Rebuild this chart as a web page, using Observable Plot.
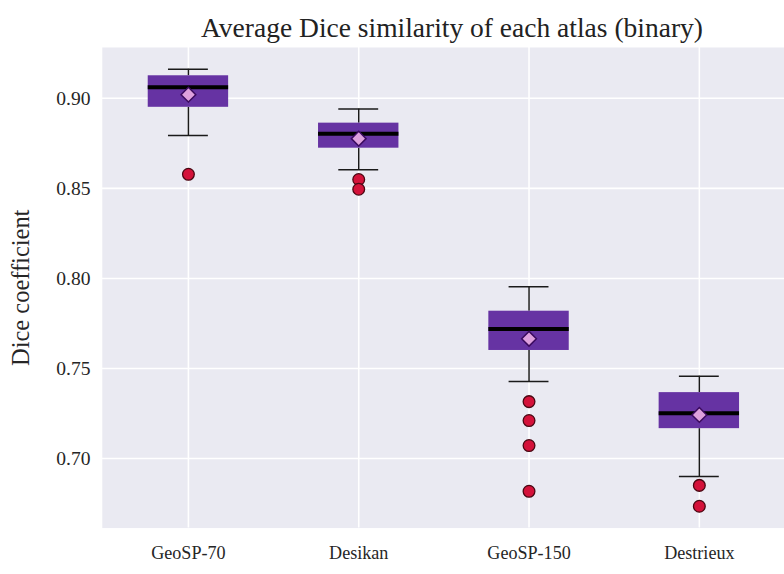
<!DOCTYPE html>
<html>
<head>
<meta charset="utf-8">
<script src="https://cdn.jsdelivr.net/npm/d3@7"></script>
<script src="https://cdn.jsdelivr.net/npm/@observablehq/plot@0.6"></script>
<style>
  html, body { margin: 0; padding: 0; background: #fff; overflow: hidden; width: 784px; height: 574px; }
  #title { position: relative; width: 904px; height: 47px; text-align: center;
           font-family: "Liberation Serif", "Times New Roman", serif; font-size: 27.5px; color: #222;
           line-height: 27px; box-sizing: border-box; }
  #title span { position: absolute; left: 0; right: 0; top: 14px; }
</style>
</head>
<body>
<div id="title"><span>Average Dice similarity of each atlas (binary)</span></div>
<div id="chart"></div>
<script>
// Per-atlas summary statistics of the Dice coefficient
const atlases     = ["GeoSP-70", "Desikan", "GeoSP-150", "Destrieux"];
const whiskerHigh = [0.9161, 0.8940, 0.7954, 0.7457];
const q3          = [0.9125, 0.8862, 0.7818, 0.7366];
const medians     = [0.9061, 0.8803, 0.7719, 0.7251];
const means       = [0.9020, 0.8776, 0.7665, 0.7242];
const q1          = [0.8950, 0.8723, 0.7600, 0.7166];
const whiskerLow  = [0.8793, 0.8603, 0.7428, 0.6900];

// Outlying subjects per atlas
const outlierAtlas  = ["GeoSP-70", "Desikan", "Desikan", "GeoSP-150", "GeoSP-150", "GeoSP-150", "GeoSP-150", "Destrieux", "Destrieux"];
const outlierValues = [0.8578, 0.8549, 0.8495, 0.7316, 0.7211, 0.7072, 0.6818, 0.6851, 0.6735];

const yTicks = [0.70, 0.75, 0.80, 0.85, 0.90];
const yLabel = "Dice coefficient";

const stats = atlases.map((atlas, i) => ({
  atlas, lo: whiskerLow[i], q1: q1[i], median: medians[i], mean: means[i], q3: q3[i], hi: whiskerHigh[i]
}));
const outliers = outlierAtlas.map((atlas, i) => ({atlas, value: outlierValues[i]}));

// Square diamond marker (rotated square, like matplotlib's "D")
const squareDiamond = {
  draw(context, size) {
    const r = Math.sqrt(size / 2);
    context.moveTo(0, -r);
    context.lineTo(r, 0);
    context.lineTo(0, r);
    context.lineTo(-r, 0);
    context.closePath();
  }
};

const width = 801;
const band = (width - 104) / atlases.length;
const boxInset = (band - 82.4) / 2;
const capInset = (band - 41) / 2;

const chart = Plot.plot({
  width,
  height: 527,
  marginTop: 0,
  marginBottom: 36,
  marginLeft: 104,
  marginRight: 0,
  style: {fontFamily: "'Liberation Serif', 'Times New Roman', serif", fontSize: "20px", color: "#262626", background: "transparent"},
  x: {domain: atlases, padding: 0, label: null},
  y: {domain: [0.6614, 0.9282], ticks: yTicks, tickFormat: d3.format(".2f"), label: null},
  marks: [
    Plot.frame({fill: "#EAEAF2", stroke: null}),
    Plot.gridY(yTicks, {stroke: "white", strokeOpacity: 1, strokeWidth: 1.6}),
    Plot.gridX({stroke: "white", strokeOpacity: 1, strokeWidth: 1.6}),
    // whiskers
    Plot.ruleX(stats, {x: "atlas", y1: "lo", y2: "q1", stroke: "#1a1a1a", strokeWidth: 1.5}),
    Plot.ruleX(stats, {x: "atlas", y1: "q3", y2: "hi", stroke: "#1a1a1a", strokeWidth: 1.5}),
    Plot.tickY(stats, {x: "atlas", y: "lo", inset: capInset, stroke: "#1a1a1a", strokeWidth: 1.5}),
    Plot.tickY(stats, {x: "atlas", y: "hi", inset: capInset, stroke: "#1a1a1a", strokeWidth: 1.5}),
    // interquartile boxes
    Plot.barY(stats, {x: "atlas", y1: "q1", y2: "q3", insetLeft: boxInset, insetRight: boxInset, fill: "#6633a3"}),
    // medians
    Plot.tickY(stats, {x: "atlas", y: "median", inset: boxInset, stroke: "black", strokeWidth: 4}),
    // means
    Plot.dot(stats, {x: "atlas", y: "mean", symbol: squareDiamond, r: 6, fill: "#dda0dd", stroke: "#3a0a5e", strokeWidth: 1.5}),
    // outliers
    Plot.dot(outliers, {x: "atlas", y: "value", r: 6, fill: "#d4123a", stroke: "#4a0712", strokeWidth: 1.3}),
    Plot.axisX({tickSize: 0, tickPadding: 18, label: null, fontSize: 18.5}),
    Plot.axisY(yTicks, {tickSize: 0, tickPadding: 12, tickFormat: d3.format(".2f"), label: null, fontSize: 20}),
    // vertical axis title
    Plot.text([yLabel], {frameAnchor: "left", textAnchor: "middle", rotate: -90, dx: -83, fontSize: 25, fill: "#262626"})
  ]
});
document.getElementById("chart").appendChild(chart);
</script>
</body>
</html>
